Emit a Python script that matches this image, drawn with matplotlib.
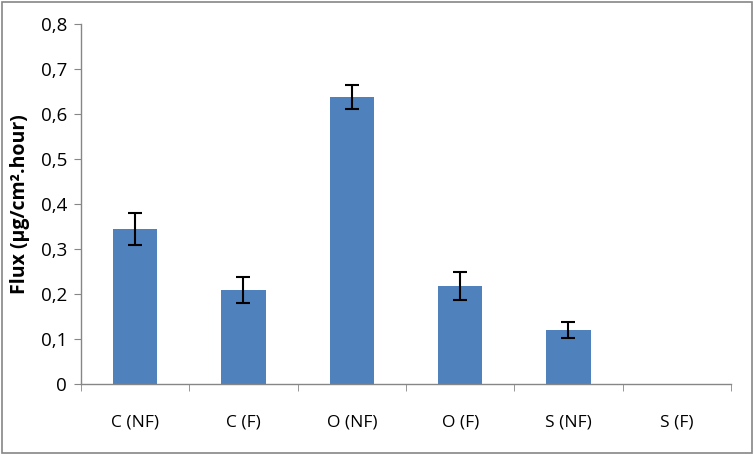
import numpy as np
import matplotlib
matplotlib.use('Agg')
import matplotlib.pyplot as plt
from matplotlib.ticker import FuncFormatter, FixedLocator

# Dados
categorias = ['C (NF)', 'C (F)', 'O (NF)', 'O (F)', 'S (NF)', 'S (F)']
fluxo = [0.345, 0.209, 0.638, 0.218, 0.120, 0.0]
erro = [0.035, 0.028, 0.027, 0.032, 0.018, 0.0]

plt.rcParams['font.family'] = ['Open Sans', 'DejaVu Sans']

fig = plt.figure(figsize=(7.54, 4.54), dpi=100)
ax = fig.add_axes([0.1074, 0.1542, 0.8621, 0.7928])

x = np.arange(len(categorias))
ax.bar(x, fluxo, width=0.41, color='#4F81BD')
# barras de erro so onde existem
mask = np.array(erro) > 0
ax.errorbar(x[mask], np.array(fluxo)[mask], yerr=np.array(erro)[mask], fmt='none',
            ecolor='black', elinewidth=1.5, capsize=5, capthick=1.5)

ax.set_xlim(-0.5, len(categorias) - 0.5)
ax.set_ylim(0, 0.8)
ax.set_yticks(np.arange(0, 0.81, 0.1))
ax.yaxis.set_major_formatter(FuncFormatter(lambda v, p: '0' if abs(v) < 1e-9 else f'{v:.1f}'.replace('.', ',')))

ax.set_xticks(x)
ax.set_xticklabels(categorias)
ax.xaxis.set_minor_locator(FixedLocator(np.arange(-0.5, len(categorias), 1)))
ax.tick_params(axis='x', which='major', length=0, pad=22, labelsize=12.5)
ax.tick_params(axis='x', which='minor', length=5, color='#868686', direction='out')
ax.tick_params(axis='y', length=5, color='#868686', direction='out', labelsize=13.5, pad=5)

for s in ['top', 'right']:
    ax.spines[s].set_visible(False)
for s in ['left', 'bottom']:
    ax.spines[s].set_color('#868686')
    ax.spines[s].set_linewidth(1)

ax.set_ylabel('Flux (µg/cm².hour)', fontweight='bold', fontsize=14, labelpad=8)

# moldura do grafico
fig.patches.append(plt.Rectangle((0.002, 0.003), 0.995, 0.993, transform=fig.transFigure,
                                 fill=False, edgecolor='#868686', linewidth=1.2))

fig.savefig('out.png', dpi=100)
